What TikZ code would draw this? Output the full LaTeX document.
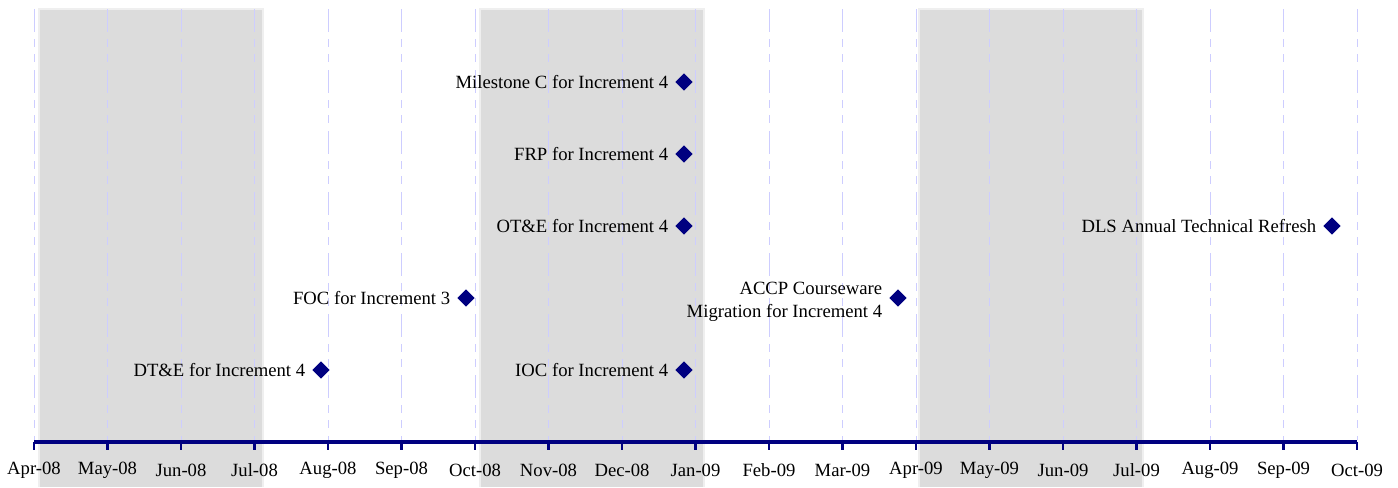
\documentclass[tikz,border=0pt]{standalone}
\usepackage{fontspec}
\setmainfont{Liberation Serif}
\usetikzlibrary{positioning,shapes.geometric}
\definecolor{msnavy}{RGB}{0,0,128}
\definecolor{bandgray}{RGB}{220,220,220}
\definecolor{gridblue}{RGB}{205,205,255}

\begin{document}
\begin{tikzpicture}[
  x=0.75pt, y=-0.75pt,
  node distance=5pt,
  band/.style={fill=bandgray, draw=none},
  bandedge/.style={fill=bandgray!45, draw=none},
  gridline/.style={draw=gridblue, line width=0.7pt, dash pattern=on 17.25pt off 5.25pt on 6pt off 5.25pt on 6pt off 6pt},
  axisline/.style={draw=msnavy, line width=2.7pt},
  tickline/.style={draw=msnavy, line width=2.2pt},
  event/.style={diamond, fill=msnavy, inner sep=0pt, minimum size=13pt},
  evlabel/.style={font=\fontsize{14}{17.25}\selectfont, align=right, inner sep=0pt},
  month/.style={font=\fontsize{14}{16}\selectfont, inner sep=0pt}
]
\useasboundingbox (0,0) rectangle (1398,487);

% shaded quarters
\foreach \bx in {40,481,920}{
  \fill[bandedge] (\bx-2,8) rectangle (\bx+224,487);
  \fill[band] (\bx,10) rectangle (\bx+222,487);
}

% month grid, ticks and labels
\foreach \m [count=\i from 0] in {Apr-08,May-08,Jun-08,Jul-08,Aug-08,Sep-08,Oct-08,Nov-08,Dec-08,Jan-09,Feb-09,Mar-09,Apr-09,May-09,Jun-09,Jul-09,Aug-09,Sep-09,Oct-09}{
  \draw[gridline] ({34+73.5*\i},9) -- ({34+73.5*\i},440);
  \draw[tickline] ({34+73.5*\i},442) -- ({34+73.5*\i},450);
  \node[month] (m\i) at ({34+73.5*\i},470) {\m};
}
\draw[axisline] (m0.center |- 0,442) -- (m18.center |- 0,442);

% events
\node[event] (mc) at (684,82) {};
\node[evlabel, left=of mc] (mct) {Milestone C for Increment 4};
\node[event] (frp) at (684,154) {};
\node[evlabel, left=of frp] (frpt) {FRP for Increment 4};
\node[event] (ote) at (684,226) {};
\node[evlabel, left=of ote] (otet) {OT\&E for Increment 4};
\node[event] (ioc) at (684,370) {};
\node[evlabel, left=of ioc] (ioct) {IOC for Increment 4};
\node[event] (foc) at (466,298) {};
\node[evlabel, left=of foc] (foct) {FOC for Increment 3};
\node[event] (dte) at (321,370) {};
\node[evlabel, left=of dte] (dtet) {DT\&E for Increment 4};
\node[event] (accp) at (898,298) {};
\node[evlabel, left=of accp, yshift=-3pt] (accpt) {ACCP Courseware\\Migration for Increment 4};
\node[event] (dls) at (1332,226) {};
\node[evlabel, left=of dls] (dlst) {DLS Annual Technical Refresh};
\end{tikzpicture}
\end{document}
